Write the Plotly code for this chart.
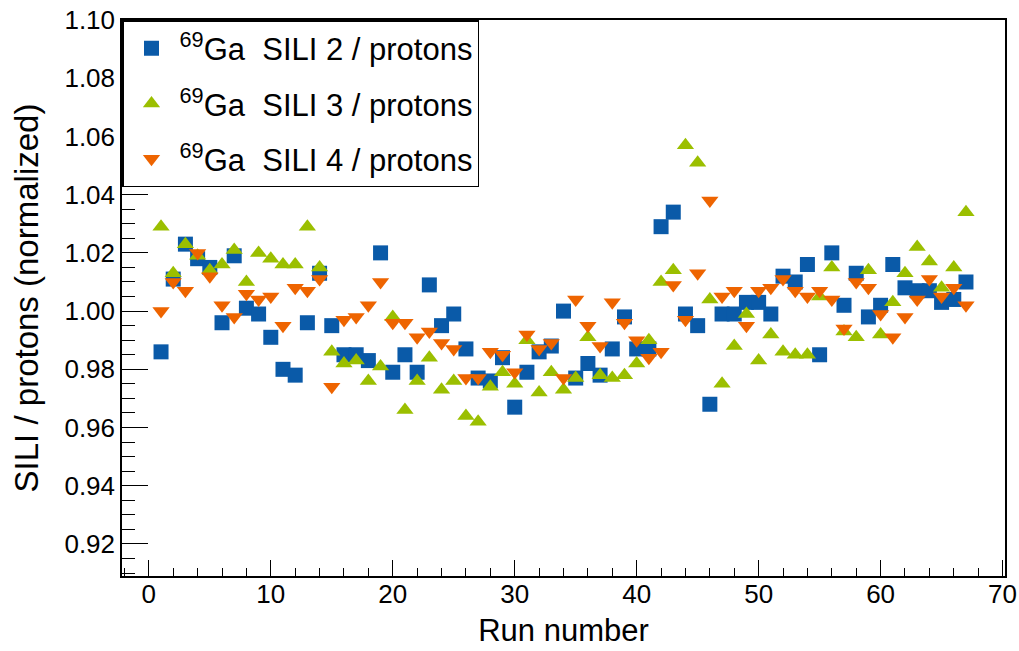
import plotly.graph_objects as go

runs = list(range(1, 68))

sili2 = [0.986, 1.011, 1.023, 1.018, 1.015, 0.996, 1.019, 1.001, 0.999, 0.991,
         0.980, 0.978, 0.996, 1.013, 0.995, 0.985, 0.985, 0.983, 1.020, 0.979,
         0.985, 0.979, 1.009, 0.995, 0.999, 0.987, 0.977, 0.976, 0.984, 0.967,
         0.979, 0.986, 0.988, 1.000, 0.977, 0.982, 0.978, 0.987, 0.998, 0.987,
         0.987, 1.029, 1.034, 0.999, 0.995, 0.968, 0.999, 0.999, 1.003, 1.003,
         0.999, 1.012, 1.010, 1.016, 0.985, 1.020, 1.002, 1.013, 0.998, 1.002,
         1.016, 1.008, 1.007, 1.007, 1.003, 1.004, 1.010]

sili3 = [1.029, 1.013, 1.023, 1.019, 1.014, 1.016, 1.021, 1.010, 1.020, 1.018,
         1.016, 1.016, 1.029, 1.015, 0.986, 0.982, 0.983, 0.976, 0.981, 0.998,
         0.966, 0.976, 0.984, 0.973, 0.976, 0.964, 0.962, 0.974, 0.979, 0.975,
         0.990, 0.972, 0.979, 0.973, 0.977, 0.991, 0.978, 0.977, 0.978, 0.982,
         0.990, 1.010, 1.014, 1.057, 1.051, 1.004, 0.975, 0.988, 0.999, 0.983,
         0.992, 0.986, 0.985, 0.985, 1.005, 1.015, 0.993, 0.991, 1.014, 0.992,
         1.003, 1.013, 1.022, 1.017, 1.008, 1.015, 1.034]

sili4 = [1.000, 1.010, 1.007, 1.020, 1.012, 1.002, 0.998, 1.006, 1.004, 1.005,
         0.995, 1.008, 1.007, 1.011, 0.974, 0.997, 0.998, 1.002, 1.010, 0.996,
         0.996, 0.991, 0.993, 0.989, 0.987, 0.977, 0.977, 0.986, 0.985, 0.979,
         0.992, 0.987, 0.989, 0.977, 1.004, 0.995, 0.988, 1.003, 0.996, 0.990,
         0.984, 0.986, 1.009, 0.997, 1.013, 1.038, 1.005, 1.007, 0.995, 1.007,
         1.008, 1.011, 1.007, 1.005, 1.007, 1.004, 0.994, 1.010, 1.008, 0.999,
         0.991, 0.998, 1.004, 1.011, 1.005, 1.008, 1.002]

series = [
    ("<sup>69</sup>Ga  SILI 2 / protons", sili2, "square", "#0a5aa8"),
    ("<sup>69</sup>Ga  SILI 3 / protons", sili3, "triangle-up", "#9bbf00"),
    ("<sup>69</sup>Ga  SILI 4 / protons", sili4, "triangle-down", "#ee6400"),
]

FONT = "Liberation Sans, Arial, Helvetica, sans-serif"

fig = go.Figure()
for i, (name, vals, sym, col) in enumerate(series):
    fig.add_trace(go.Scatter(
        x=runs, y=vals, mode="markers", name=name,
        legendgroup=f"g{i}",
        marker=dict(symbol=sym, size=15, color=col, line=dict(width=0)),
    ))

fig.update_layout(
    width=1019, height=651,
    margin=dict(l=122, r=14, t=20, b=75, autoexpand=False),
    paper_bgcolor="white", plot_bgcolor="white",
    font=dict(family=FONT, size=26, color="black"),
    showlegend=True,
    legend=dict(
        x=0, y=1, xanchor="left", yanchor="top",
        bgcolor="white", bordercolor="black", borderwidth=1.5,
        font=dict(size=31, family=FONT),
        tracegroupgap=12,
        itemwidth=46,
    ),
    xaxis=dict(
        range=[-2.2, 70.2], dtick=10, tick0=0,
        showgrid=False, zeroline=False, automargin=False,
        showline=True, linecolor="black", linewidth=1.5, mirror=True,
        ticks="inside", ticklen=16, tickcolor="black", tickwidth=1,
        minor=dict(dtick=2, ticks="inside", ticklen=8, tickcolor="black", showgrid=False),
        tickfont=dict(size=26),
        ticklabelstandoff=-6,
        title=dict(text="Run number", font=dict(size=31), standoff=11),
    ),
    yaxis=dict(
        range=[0.909, 1.10], dtick=0.02, tick0=0.9, tickformat=".2f",
        showgrid=False, zeroline=False, automargin=False,
        showline=True, linecolor="black", linewidth=1.5, mirror=True,
        ticks="inside", ticklen=26, tickcolor="black", tickwidth=1,
        minor=dict(dtick=0.005, ticks="inside", ticklen=13, tickcolor="black", showgrid=False),
        tickfont=dict(size=26),
        title=dict(text="SILI / protons (normalized)", font=dict(size=33), standoff=16),
    ),
)

fig.write_html("out.html")
